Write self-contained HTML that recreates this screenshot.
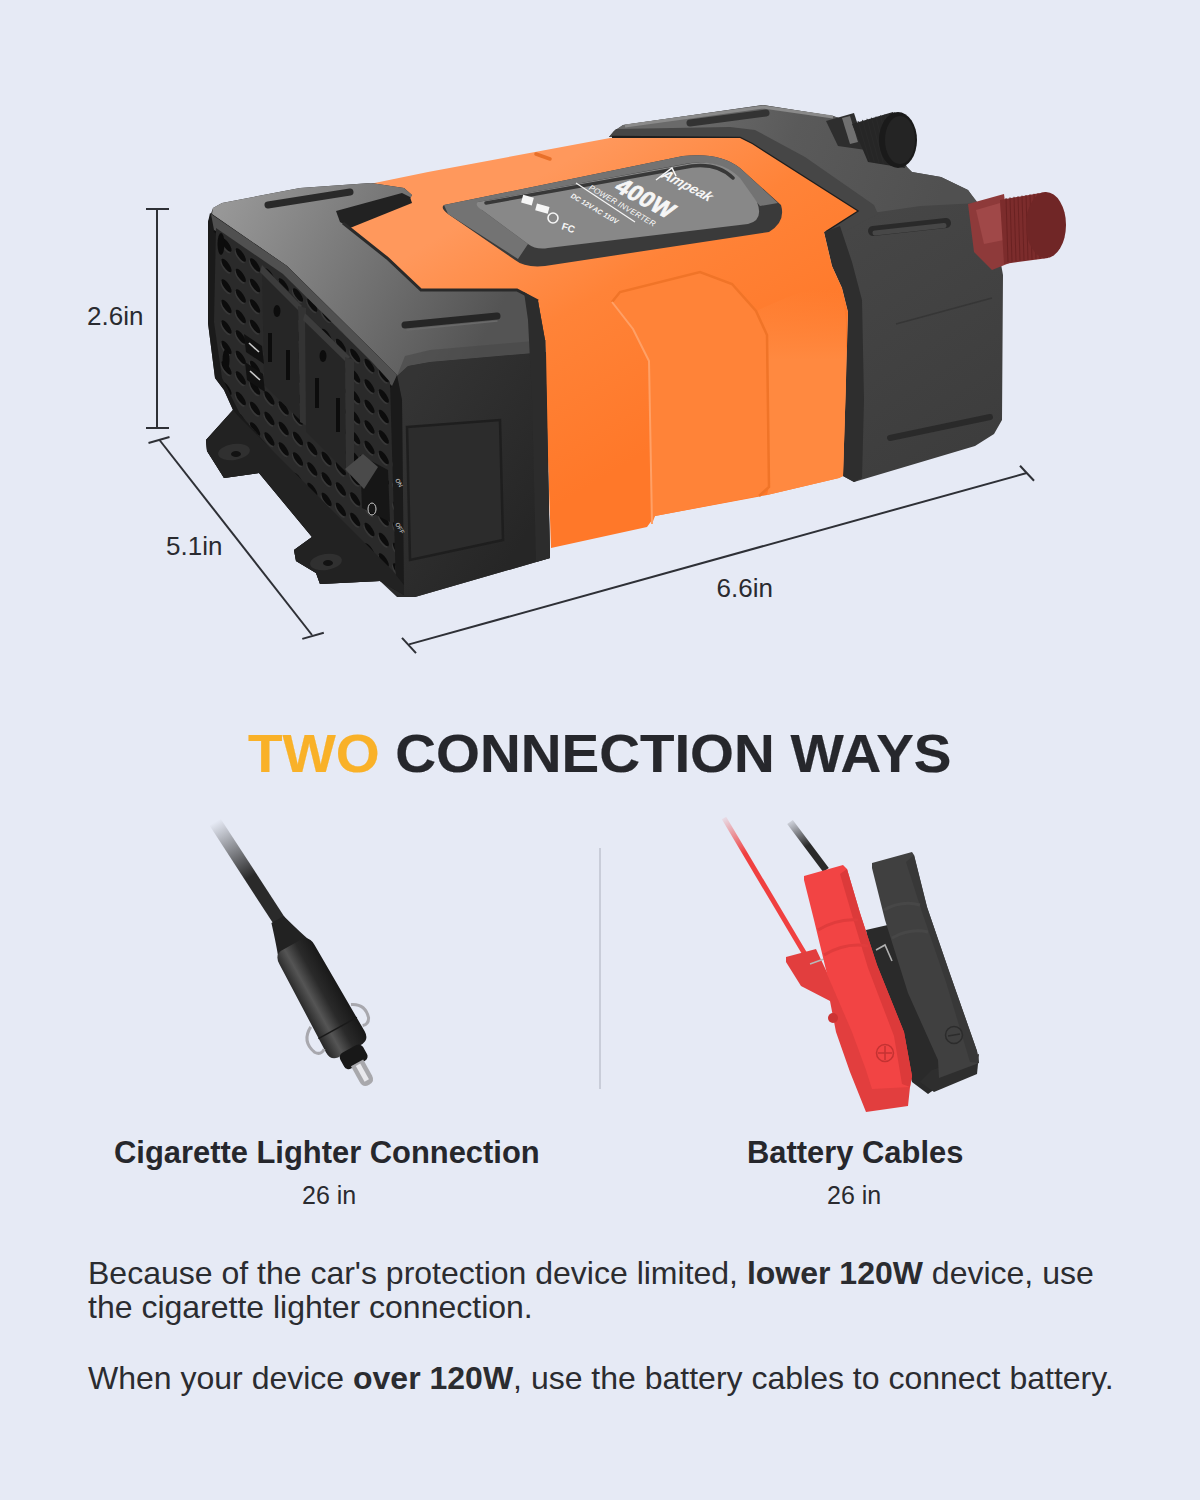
<!DOCTYPE html>
<html><head><meta charset="utf-8">
<style>
html,body{margin:0;padding:0;}
body{width:1200px;height:1500px;background:#E6EAF5;position:relative;overflow:hidden;font-family:"Liberation Sans",sans-serif;color:#26272C;}
.abs{position:absolute;white-space:nowrap;}
svg{position:absolute;left:0;top:0;}
.dim{font-size:26px;color:#2A2B30;line-height:1;}
.head{left:248px;top:727px;font-size:53px;font-weight:bold;line-height:1;transform-origin:0 0;transform:scaleX(1.065);-webkit-text-stroke:0.2px currentColor;}
.sub{font-size:30.9px;font-weight:bold;line-height:1;}
.len{font-size:25px;line-height:1;color:#2A2B30;}
.para{font-size:32px;line-height:34px;color:#2B2C30;}
</style></head>
<body>
<svg width="1200" height="1500" viewBox="0 0 1200 1500" id="art">
  <!-- dimension lines -->
  <g stroke="#2E3036" stroke-width="2" fill="none" stroke-linecap="butt">
    <line x1="157" y1="209" x2="157" y2="428"/>
    <line x1="146" y1="209" x2="169" y2="209"/>
    <line x1="146" y1="428" x2="169" y2="428"/>
    <line x1="159.5" y1="440" x2="312" y2="635"/>
    <line x1="148.5" y1="443" x2="169.5" y2="437"/>
    <line x1="302.3" y1="638.9" x2="323.8" y2="632.8"/>
    <line x1="409" y1="644.4" x2="1026.7" y2="473"/>
    <line x1="402" y1="637.8" x2="416" y2="653.2"/>
    <line x1="1020" y1="465.7" x2="1034" y2="480.7"/>
  </g>
  <!-- divider -->
  <rect x="599" y="848" width="2" height="241" fill="#C9CDD9"/>
  <g id="inverter">
<defs>
<linearGradient id="gLtop" x1="225" y1="205" x2="480" y2="345" gradientUnits="userSpaceOnUse"><stop offset="0" stop-color="#979797"/><stop offset="1" stop-color="#545454"/></linearGradient>
<linearGradient id="gRtop" x1="690" y1="110" x2="940" y2="200" gradientUnits="userSpaceOnUse"><stop offset="0" stop-color="#6a6a6a"/><stop offset="0.4" stop-color="#5a5a5a"/><stop offset="1" stop-color="#505050"/></linearGradient>
<linearGradient id="gOr" x1="450" y1="230" x2="600" y2="480" gradientUnits="userSpaceOnUse"><stop offset="0" stop-color="#FF985C"/><stop offset="0.45" stop-color="#FF8338"/><stop offset="1" stop-color="#FF7829"/></linearGradient>
<linearGradient id="gSide" x1="400" y1="400" x2="550" y2="500" gradientUnits="userSpaceOnUse"><stop offset="0" stop-color="#343434"/><stop offset="1" stop-color="#262626"/></linearGradient>
<linearGradient id="gRface" x1="850" y1="230" x2="1000" y2="460" gradientUnits="userSpaceOnUse"><stop offset="0" stop-color="#464646"/><stop offset="1" stop-color="#3c3c3c"/></linearGradient>
<clipPath id="ffclip"><polygon points="216,228 283,274 372,362 390,382 396,588 380,575 240,414 222,378 214,322"/></clipPath>
</defs>
<polygon points="609,137 614,131 623,125 763,105 833,116 857,124 905,165 912,172 941,177 968,190 985,215 997,242 1003,275 1002,420 994,434 975,446 854,482 843,476 846,380 848,312 842,288 832,266 824,232 857,211 752,144 740,138" fill="url(#gRface)"/>
<polygon points="609,137 614,131 623,125 763,105 833,116 857,124 905,165 912,172 941,177 968,190 978,203 920,206 872,213 840,226 824,232 857,211 752,144 740,138" fill="url(#gRtop)"/>
<polygon points="609,137 740,138 752,144 857,211 824,232 836,236 878,214 874,205 805,157 755,130 730,127 616,129" fill="#464646"/>
<path d="M612,137 L740,138 L752,144 L857,211 L826,231" stroke="#1e1e1e" stroke-width="2.5" fill="none"/>
<polygon points="824,232 840,226 852,262 862,300 864,400 862,478 854,482 843,476 846,380 848,312 842,288 832,266" fill="#2e2e2e"/>
<path d="M625,126 L763,107 L833,117" stroke="#8a8a8a" stroke-width="3" fill="none"/>
<path d="M690,123 L766,113" stroke="#333333" stroke-width="7" stroke-linecap="round"/>
<path d="M873,231 L946,223" stroke="#2a2a2a" stroke-width="10" stroke-linecap="round"/>
<path d="M875,233 L944,225.5" stroke="#474747" stroke-width="5" stroke-linecap="round"/>
<path d="M890,438 L990,417" stroke="#2a2a2a" stroke-width="6" stroke-linecap="round"/>
<path d="M896,324 L992,298" stroke="#363636" stroke-width="1.5"/>
<g id="knob">
<path d="M826,121 L854,113 L866,150 L838,146 Z" fill="#2e2e2e"/>
<path d="M842,118 L850,116 L858,142 L850,144 Z" fill="#707070"/>
<path d="M852,124 L893,112 L905,168 L868,162 Z" fill="#262626"/>
<path d="M858.0,121.0 L870.0,162.0" stroke="#2a2a2a" stroke-width="1"/>
<path d="M862.5,119.9 L874.5,162.6" stroke="#2a2a2a" stroke-width="1"/>
<path d="M867.0,118.8 L879.0,163.2" stroke="#2a2a2a" stroke-width="1"/>
<path d="M871.5,117.7 L883.5,163.8" stroke="#2a2a2a" stroke-width="1"/>
<path d="M876.0,116.6 L888.0,164.4" stroke="#2a2a2a" stroke-width="1"/>
<path d="M880.5,115.5 L892.5,165.0" stroke="#2a2a2a" stroke-width="1"/>
<path d="M885.0,114.4 L897.0,165.6" stroke="#2a2a2a" stroke-width="1"/>
<path d="M889.5,113.3 L901.5,166.2" stroke="#2a2a2a" stroke-width="1"/>
<path d="M894.0,112.2 L906.0,166.8" stroke="#2a2a2a" stroke-width="1"/>
<ellipse cx="898" cy="140" rx="19" ry="28" fill="#1a1a1a"/>
<ellipse cx="900" cy="140" rx="15" ry="24" fill="#242424"/>
</g>
<g id="red">
<path d="M968,204 L1004,194 L1012,262 L992,270 L974,252 Z" fill="#8e3a3a"/>
<path d="M976,210 L1000,203 L1004,240 L984,244 Z" fill="#a04848"/>
<path d="M1000,200 L1046,192 L1048,258 L1004,264 Z" fill="#7c2c2c"/>
<path d="M1006,198.0 L1008,262.0" stroke="#6a2222" stroke-width="1"/>
<path d="M1010,197.4 L1012,261.6" stroke="#6a2222" stroke-width="1"/>
<path d="M1014,196.8 L1016,261.2" stroke="#6a2222" stroke-width="1"/>
<path d="M1018,196.2 L1020,260.8" stroke="#6a2222" stroke-width="1"/>
<path d="M1022,195.6 L1024,260.4" stroke="#6a2222" stroke-width="1"/>
<path d="M1026,195.0 L1028,260.0" stroke="#6a2222" stroke-width="1"/>
<path d="M1030,194.4 L1032,259.6" stroke="#6a2222" stroke-width="1"/>
<path d="M1034,193.8 L1036,259.2" stroke="#6a2222" stroke-width="1"/>
<path d="M1038,193.2 L1040,258.8" stroke="#6a2222" stroke-width="1"/>
<path d="M1042,192.6 L1044,258.4" stroke="#6a2222" stroke-width="1"/>
<ellipse cx="1046" cy="225" rx="20" ry="33" fill="#702626"/>
</g>
<polygon points="360,186 428,172 535,152 610,138 740,138 752,144 857,211 824,232 832,266 842,288 848,312 846,380 843,476 839,478 767,495 757,497 655,516 647,527 551,548 546,400 532,296 421,296 343,240" fill="url(#gOr)"/>
<defs><linearGradient id="gRsec" x1="0" y1="290" x2="0" y2="360" gradientUnits="userSpaceOnUse"><stop offset="0" stop-color="#FF8940" stop-opacity="0"/><stop offset="1" stop-color="#FF8940" stop-opacity="1"/></linearGradient></defs>
<polygon points="756,311 790,296 840,280 846,320 846,380 843,476 839,478 767,495 769,487 767,335" fill="url(#gRsec)"/>
<polygon points="612,302 620,292 700,272 732,284 756,311 767,335 769,487 759,496 655,516 652,524 649,361 633,329" fill="#FF8338"/>
<path d="M612,302 L620,292 L700,272 L732,284 L756,311 L767,335 L769,487 L759,496" fill="none" stroke="#F07428" stroke-width="2.5"/>
<path d="M612,302 L633,329 L649,361 L652,524" fill="none" stroke="#FFA066" stroke-width="2"/>
<path d="M536,154 L550,159" stroke="#E8702A" stroke-width="3.5" stroke-linecap="round"/>
<path d="M444,205 L683,156 Q720,152 740,168 L781,205 Q786,222 769,232 L545,266 Q525,268 515,260 L448,214 Q440,208 444,205 Z" fill="#3a3a3a"/>
<path d="M444,205 L683,156 Q720,152 740,168 L778,203 L760,206 L735,176 Q718,160 690,163 L478,202 L482,210 L528,244 L518,259 L448,214 Z" fill="#737373"/>
<path d="M478,202 L692,163 Q722,160 740,178 L757,202 Q764,220 748,224 L548,248 Q536,250 528,244 L482,210 Q474,205 478,202 Z" fill="#888888"/>
<path d="M486,203 L692,166 Q718,163 733,178" stroke="#383838" stroke-width="3.5" fill="none" stroke-linecap="round"/>
<g fill="#f6f6f6" font-family="Liberation Sans, sans-serif">
<text transform="translate(613,190) rotate(28) skewX(-12)" font-size="23" font-weight="bold" letter-spacing="0.5" stroke="#f6f6f6" stroke-width="0.8">400W</text>
<text transform="translate(660,177) rotate(27) skewX(-14)" font-size="14" font-style="italic" font-weight="bold">Ampeak</text>
<path d="M656,180 L672,168 L676,176" stroke="#f6f6f6" stroke-width="1.5" fill="none"/>
<text transform="translate(588,189) rotate(30) skewX(-10)" font-size="8" letter-spacing="0.2">POWER INVERTER</text>
<path d="M576,183 L635,222" stroke="#f6f6f6" stroke-width="1.2"/>
<text transform="translate(570,197) rotate(30) skewX(-10)" font-size="7" font-weight="bold">DC 12V</text>
<text transform="translate(592,210) rotate(30) skewX(-10)" font-size="7" font-weight="bold">AC 110V</text>
<rect x="522" y="196" width="11" height="8" transform="rotate(15 527 200)"/>
<rect x="536" y="205" width="13" height="7" transform="rotate(15 542 208)"/>
<circle cx="553" cy="218" r="5" fill="none" stroke="#f6f6f6" stroke-width="1.6"/>
<text transform="translate(561,229) rotate(18)" font-size="10" font-weight="bold">FC</text>
</g>
<polygon points="213,208 222,203 300,188 371,183 404,188 412,195 408,202 343,223 387,258 421,290 517,290 538,301 545,340 550,558 415,597 397,597 380,581 320,584 316,573 296,561 294,550 312,537 259,473 224,478 207,451 206,440 233,410 224,390 215,378 208,323 208,222" fill="#2a2a2a"/>
<polygon points="213,208 222,203 300,188 371,183 404,188 412,195 408,202 343,223 387,258 421,290 517,290 538,301 546,352 430,362 408,366 397,376 378,356 287,266 212,214" fill="url(#gLtop)"/>
<polygon points="336,211 402,193 410,197 412,203 350,228 340,222" fill="#222"/>
<path d="M343,223 L387,258 L421,290 L517,290 L538,301" fill="none" stroke="#2a2a2a" stroke-width="3"/>
<path d="M268,205 L350,192" stroke="#2a2a2a" stroke-width="7" stroke-linecap="round"/>
<defs><linearGradient id="gSideTop" x1="0" y1="345" x2="0" y2="372" gradientUnits="userSpaceOnUse"><stop offset="0" stop-color="#555555" stop-opacity="0"/><stop offset="1" stop-color="#555555" stop-opacity="0"/></linearGradient></defs>
<polygon points="397,376 408,366 430,362 546,352 550,558 415,597 404,595 402,400" fill="url(#gSide)"/>
<polygon points="397,376 408,366 430,362 546,352 546,340 430,350 405,356" fill="#484848" opacity="0.6"/>
<polygon points="524,292 538,301 545,340 550,558 536,562 532,400 528,320" fill="#2c2c2c"/>
<path d="M405,325 L497,316" stroke="#262626" stroke-width="7" stroke-linecap="round"/>
<path d="M407,330 L497,321" stroke="#6a6a6a" stroke-width="1.5" stroke-linecap="round"/>
<polygon points="407,427 500,420 503,540 410,560" fill="#2c2c2c" stroke="#1e1e1e" stroke-width="2.5"/>
<polygon points="210,213 287,266 378,356 397,375 402,400 404,595 380,581 320,584 316,573 296,561 294,550 312,537 259,473 224,478 207,451 206,440 233,410 224,390 215,378 208,323 208,222" fill="#1a1a1a"/>
<polygon points="211,214 287,266 378,356 397,375 392,386 372,366 283,278 214,230" fill="#505050"/>
<path d="M214,231 L283,279 L372,367 L391,387" fill="none" stroke="#111" stroke-width="2"/>
<polygon points="216,228 283,274 372,362 390,382 396,588 380,575 240,414 222,378 214,322" fill="#2a2a2a"/>
<g clip-path="url(#ffclip)">
<ellipse cx="225.5" cy="185.0" rx="8" ry="2.9" transform="rotate(56 225.5 185.0)" fill="#383838"/>
<ellipse cx="226.5" cy="183.5" rx="8" ry="2.9" transform="rotate(56 226.5 183.5)" fill="#0c0c0c"/>
<ellipse cx="225.5" cy="205.5" rx="8" ry="2.9" transform="rotate(56 225.5 205.5)" fill="#383838"/>
<ellipse cx="226.5" cy="204.0" rx="8" ry="2.9" transform="rotate(56 226.5 204.0)" fill="#0c0c0c"/>
<ellipse cx="225.5" cy="226.0" rx="8" ry="2.9" transform="rotate(56 225.5 226.0)" fill="#383838"/>
<ellipse cx="226.5" cy="224.5" rx="8" ry="2.9" transform="rotate(56 226.5 224.5)" fill="#0c0c0c"/>
<ellipse cx="225.5" cy="246.5" rx="8" ry="2.9" transform="rotate(56 225.5 246.5)" fill="#383838"/>
<ellipse cx="226.5" cy="245.0" rx="8" ry="2.9" transform="rotate(56 226.5 245.0)" fill="#0c0c0c"/>
<ellipse cx="225.5" cy="267.0" rx="8" ry="2.9" transform="rotate(56 225.5 267.0)" fill="#383838"/>
<ellipse cx="226.5" cy="265.5" rx="8" ry="2.9" transform="rotate(56 226.5 265.5)" fill="#0c0c0c"/>
<ellipse cx="225.5" cy="287.5" rx="8" ry="2.9" transform="rotate(56 225.5 287.5)" fill="#383838"/>
<ellipse cx="226.5" cy="286.0" rx="8" ry="2.9" transform="rotate(56 226.5 286.0)" fill="#0c0c0c"/>
<ellipse cx="225.5" cy="308.0" rx="8" ry="2.9" transform="rotate(56 225.5 308.0)" fill="#383838"/>
<ellipse cx="226.5" cy="306.5" rx="8" ry="2.9" transform="rotate(56 226.5 306.5)" fill="#0c0c0c"/>
<ellipse cx="225.5" cy="328.5" rx="8" ry="2.9" transform="rotate(56 225.5 328.5)" fill="#383838"/>
<ellipse cx="226.5" cy="327.0" rx="8" ry="2.9" transform="rotate(56 226.5 327.0)" fill="#0c0c0c"/>
<ellipse cx="225.5" cy="349.0" rx="8" ry="2.9" transform="rotate(56 225.5 349.0)" fill="#383838"/>
<ellipse cx="226.5" cy="347.5" rx="8" ry="2.9" transform="rotate(56 226.5 347.5)" fill="#0c0c0c"/>
<ellipse cx="225.5" cy="369.5" rx="8" ry="2.9" transform="rotate(56 225.5 369.5)" fill="#383838"/>
<ellipse cx="226.5" cy="368.0" rx="8" ry="2.9" transform="rotate(56 226.5 368.0)" fill="#0c0c0c"/>
<ellipse cx="225.5" cy="390.0" rx="8" ry="2.9" transform="rotate(56 225.5 390.0)" fill="#383838"/>
<ellipse cx="226.5" cy="388.5" rx="8" ry="2.9" transform="rotate(56 226.5 388.5)" fill="#0c0c0c"/>
<ellipse cx="225.5" cy="410.5" rx="8" ry="2.9" transform="rotate(56 225.5 410.5)" fill="#383838"/>
<ellipse cx="226.5" cy="409.0" rx="8" ry="2.9" transform="rotate(56 226.5 409.0)" fill="#0c0c0c"/>
<ellipse cx="225.5" cy="431.0" rx="8" ry="2.9" transform="rotate(56 225.5 431.0)" fill="#383838"/>
<ellipse cx="226.5" cy="429.5" rx="8" ry="2.9" transform="rotate(56 226.5 429.5)" fill="#0c0c0c"/>
<ellipse cx="225.5" cy="451.5" rx="8" ry="2.9" transform="rotate(56 225.5 451.5)" fill="#383838"/>
<ellipse cx="226.5" cy="450.0" rx="8" ry="2.9" transform="rotate(56 226.5 450.0)" fill="#0c0c0c"/>
<ellipse cx="225.5" cy="472.0" rx="8" ry="2.9" transform="rotate(56 225.5 472.0)" fill="#383838"/>
<ellipse cx="226.5" cy="470.5" rx="8" ry="2.9" transform="rotate(56 226.5 470.5)" fill="#0c0c0c"/>
<ellipse cx="225.5" cy="492.5" rx="8" ry="2.9" transform="rotate(56 225.5 492.5)" fill="#383838"/>
<ellipse cx="226.5" cy="491.0" rx="8" ry="2.9" transform="rotate(56 226.5 491.0)" fill="#0c0c0c"/>
<ellipse cx="225.5" cy="513.0" rx="8" ry="2.9" transform="rotate(56 225.5 513.0)" fill="#383838"/>
<ellipse cx="226.5" cy="511.5" rx="8" ry="2.9" transform="rotate(56 226.5 511.5)" fill="#0c0c0c"/>
<ellipse cx="239.8" cy="195.0" rx="8" ry="2.9" transform="rotate(56 239.8 195.0)" fill="#383838"/>
<ellipse cx="240.8" cy="193.5" rx="8" ry="2.9" transform="rotate(56 240.8 193.5)" fill="#0c0c0c"/>
<ellipse cx="239.8" cy="215.5" rx="8" ry="2.9" transform="rotate(56 239.8 215.5)" fill="#383838"/>
<ellipse cx="240.8" cy="214.0" rx="8" ry="2.9" transform="rotate(56 240.8 214.0)" fill="#0c0c0c"/>
<ellipse cx="239.8" cy="236.0" rx="8" ry="2.9" transform="rotate(56 239.8 236.0)" fill="#383838"/>
<ellipse cx="240.8" cy="234.5" rx="8" ry="2.9" transform="rotate(56 240.8 234.5)" fill="#0c0c0c"/>
<ellipse cx="239.8" cy="256.5" rx="8" ry="2.9" transform="rotate(56 239.8 256.5)" fill="#383838"/>
<ellipse cx="240.8" cy="255.0" rx="8" ry="2.9" transform="rotate(56 240.8 255.0)" fill="#0c0c0c"/>
<ellipse cx="239.8" cy="277.0" rx="8" ry="2.9" transform="rotate(56 239.8 277.0)" fill="#383838"/>
<ellipse cx="240.8" cy="275.5" rx="8" ry="2.9" transform="rotate(56 240.8 275.5)" fill="#0c0c0c"/>
<ellipse cx="239.8" cy="297.5" rx="8" ry="2.9" transform="rotate(56 239.8 297.5)" fill="#383838"/>
<ellipse cx="240.8" cy="296.0" rx="8" ry="2.9" transform="rotate(56 240.8 296.0)" fill="#0c0c0c"/>
<ellipse cx="239.8" cy="318.0" rx="8" ry="2.9" transform="rotate(56 239.8 318.0)" fill="#383838"/>
<ellipse cx="240.8" cy="316.5" rx="8" ry="2.9" transform="rotate(56 240.8 316.5)" fill="#0c0c0c"/>
<ellipse cx="239.8" cy="338.5" rx="8" ry="2.9" transform="rotate(56 239.8 338.5)" fill="#383838"/>
<ellipse cx="240.8" cy="337.0" rx="8" ry="2.9" transform="rotate(56 240.8 337.0)" fill="#0c0c0c"/>
<ellipse cx="239.8" cy="359.0" rx="8" ry="2.9" transform="rotate(56 239.8 359.0)" fill="#383838"/>
<ellipse cx="240.8" cy="357.5" rx="8" ry="2.9" transform="rotate(56 240.8 357.5)" fill="#0c0c0c"/>
<ellipse cx="239.8" cy="379.5" rx="8" ry="2.9" transform="rotate(56 239.8 379.5)" fill="#383838"/>
<ellipse cx="240.8" cy="378.0" rx="8" ry="2.9" transform="rotate(56 240.8 378.0)" fill="#0c0c0c"/>
<ellipse cx="239.8" cy="400.0" rx="8" ry="2.9" transform="rotate(56 239.8 400.0)" fill="#383838"/>
<ellipse cx="240.8" cy="398.5" rx="8" ry="2.9" transform="rotate(56 240.8 398.5)" fill="#0c0c0c"/>
<ellipse cx="239.8" cy="420.5" rx="8" ry="2.9" transform="rotate(56 239.8 420.5)" fill="#383838"/>
<ellipse cx="240.8" cy="419.0" rx="8" ry="2.9" transform="rotate(56 240.8 419.0)" fill="#0c0c0c"/>
<ellipse cx="239.8" cy="441.0" rx="8" ry="2.9" transform="rotate(56 239.8 441.0)" fill="#383838"/>
<ellipse cx="240.8" cy="439.5" rx="8" ry="2.9" transform="rotate(56 240.8 439.5)" fill="#0c0c0c"/>
<ellipse cx="239.8" cy="461.5" rx="8" ry="2.9" transform="rotate(56 239.8 461.5)" fill="#383838"/>
<ellipse cx="240.8" cy="460.0" rx="8" ry="2.9" transform="rotate(56 240.8 460.0)" fill="#0c0c0c"/>
<ellipse cx="239.8" cy="482.0" rx="8" ry="2.9" transform="rotate(56 239.8 482.0)" fill="#383838"/>
<ellipse cx="240.8" cy="480.5" rx="8" ry="2.9" transform="rotate(56 240.8 480.5)" fill="#0c0c0c"/>
<ellipse cx="239.8" cy="502.5" rx="8" ry="2.9" transform="rotate(56 239.8 502.5)" fill="#383838"/>
<ellipse cx="240.8" cy="501.0" rx="8" ry="2.9" transform="rotate(56 240.8 501.0)" fill="#0c0c0c"/>
<ellipse cx="239.8" cy="523.0" rx="8" ry="2.9" transform="rotate(56 239.8 523.0)" fill="#383838"/>
<ellipse cx="240.8" cy="521.5" rx="8" ry="2.9" transform="rotate(56 240.8 521.5)" fill="#0c0c0c"/>
<ellipse cx="254.1" cy="205.0" rx="8" ry="2.9" transform="rotate(56 254.1 205.0)" fill="#383838"/>
<ellipse cx="255.1" cy="203.5" rx="8" ry="2.9" transform="rotate(56 255.1 203.5)" fill="#0c0c0c"/>
<ellipse cx="254.1" cy="225.5" rx="8" ry="2.9" transform="rotate(56 254.1 225.5)" fill="#383838"/>
<ellipse cx="255.1" cy="224.0" rx="8" ry="2.9" transform="rotate(56 255.1 224.0)" fill="#0c0c0c"/>
<ellipse cx="254.1" cy="246.0" rx="8" ry="2.9" transform="rotate(56 254.1 246.0)" fill="#383838"/>
<ellipse cx="255.1" cy="244.5" rx="8" ry="2.9" transform="rotate(56 255.1 244.5)" fill="#0c0c0c"/>
<ellipse cx="254.1" cy="266.5" rx="8" ry="2.9" transform="rotate(56 254.1 266.5)" fill="#383838"/>
<ellipse cx="255.1" cy="265.0" rx="8" ry="2.9" transform="rotate(56 255.1 265.0)" fill="#0c0c0c"/>
<ellipse cx="254.1" cy="287.0" rx="8" ry="2.9" transform="rotate(56 254.1 287.0)" fill="#383838"/>
<ellipse cx="255.1" cy="285.5" rx="8" ry="2.9" transform="rotate(56 255.1 285.5)" fill="#0c0c0c"/>
<ellipse cx="254.1" cy="307.5" rx="8" ry="2.9" transform="rotate(56 254.1 307.5)" fill="#383838"/>
<ellipse cx="255.1" cy="306.0" rx="8" ry="2.9" transform="rotate(56 255.1 306.0)" fill="#0c0c0c"/>
<ellipse cx="254.1" cy="328.0" rx="8" ry="2.9" transform="rotate(56 254.1 328.0)" fill="#383838"/>
<ellipse cx="255.1" cy="326.5" rx="8" ry="2.9" transform="rotate(56 255.1 326.5)" fill="#0c0c0c"/>
<ellipse cx="254.1" cy="348.5" rx="8" ry="2.9" transform="rotate(56 254.1 348.5)" fill="#383838"/>
<ellipse cx="255.1" cy="347.0" rx="8" ry="2.9" transform="rotate(56 255.1 347.0)" fill="#0c0c0c"/>
<ellipse cx="254.1" cy="369.0" rx="8" ry="2.9" transform="rotate(56 254.1 369.0)" fill="#383838"/>
<ellipse cx="255.1" cy="367.5" rx="8" ry="2.9" transform="rotate(56 255.1 367.5)" fill="#0c0c0c"/>
<ellipse cx="254.1" cy="389.5" rx="8" ry="2.9" transform="rotate(56 254.1 389.5)" fill="#383838"/>
<ellipse cx="255.1" cy="388.0" rx="8" ry="2.9" transform="rotate(56 255.1 388.0)" fill="#0c0c0c"/>
<ellipse cx="254.1" cy="410.0" rx="8" ry="2.9" transform="rotate(56 254.1 410.0)" fill="#383838"/>
<ellipse cx="255.1" cy="408.5" rx="8" ry="2.9" transform="rotate(56 255.1 408.5)" fill="#0c0c0c"/>
<ellipse cx="254.1" cy="430.5" rx="8" ry="2.9" transform="rotate(56 254.1 430.5)" fill="#383838"/>
<ellipse cx="255.1" cy="429.0" rx="8" ry="2.9" transform="rotate(56 255.1 429.0)" fill="#0c0c0c"/>
<ellipse cx="254.1" cy="451.0" rx="8" ry="2.9" transform="rotate(56 254.1 451.0)" fill="#383838"/>
<ellipse cx="255.1" cy="449.5" rx="8" ry="2.9" transform="rotate(56 255.1 449.5)" fill="#0c0c0c"/>
<ellipse cx="254.1" cy="471.5" rx="8" ry="2.9" transform="rotate(56 254.1 471.5)" fill="#383838"/>
<ellipse cx="255.1" cy="470.0" rx="8" ry="2.9" transform="rotate(56 255.1 470.0)" fill="#0c0c0c"/>
<ellipse cx="254.1" cy="492.0" rx="8" ry="2.9" transform="rotate(56 254.1 492.0)" fill="#383838"/>
<ellipse cx="255.1" cy="490.5" rx="8" ry="2.9" transform="rotate(56 255.1 490.5)" fill="#0c0c0c"/>
<ellipse cx="254.1" cy="512.5" rx="8" ry="2.9" transform="rotate(56 254.1 512.5)" fill="#383838"/>
<ellipse cx="255.1" cy="511.0" rx="8" ry="2.9" transform="rotate(56 255.1 511.0)" fill="#0c0c0c"/>
<ellipse cx="254.1" cy="533.0" rx="8" ry="2.9" transform="rotate(56 254.1 533.0)" fill="#383838"/>
<ellipse cx="255.1" cy="531.5" rx="8" ry="2.9" transform="rotate(56 255.1 531.5)" fill="#0c0c0c"/>
<ellipse cx="268.4" cy="215.0" rx="8" ry="2.9" transform="rotate(56 268.4 215.0)" fill="#383838"/>
<ellipse cx="269.4" cy="213.5" rx="8" ry="2.9" transform="rotate(56 269.4 213.5)" fill="#0c0c0c"/>
<ellipse cx="268.4" cy="235.5" rx="8" ry="2.9" transform="rotate(56 268.4 235.5)" fill="#383838"/>
<ellipse cx="269.4" cy="234.0" rx="8" ry="2.9" transform="rotate(56 269.4 234.0)" fill="#0c0c0c"/>
<ellipse cx="268.4" cy="256.0" rx="8" ry="2.9" transform="rotate(56 268.4 256.0)" fill="#383838"/>
<ellipse cx="269.4" cy="254.5" rx="8" ry="2.9" transform="rotate(56 269.4 254.5)" fill="#0c0c0c"/>
<ellipse cx="268.4" cy="276.5" rx="8" ry="2.9" transform="rotate(56 268.4 276.5)" fill="#383838"/>
<ellipse cx="269.4" cy="275.0" rx="8" ry="2.9" transform="rotate(56 269.4 275.0)" fill="#0c0c0c"/>
<ellipse cx="268.4" cy="297.0" rx="8" ry="2.9" transform="rotate(56 268.4 297.0)" fill="#383838"/>
<ellipse cx="269.4" cy="295.5" rx="8" ry="2.9" transform="rotate(56 269.4 295.5)" fill="#0c0c0c"/>
<ellipse cx="268.4" cy="317.5" rx="8" ry="2.9" transform="rotate(56 268.4 317.5)" fill="#383838"/>
<ellipse cx="269.4" cy="316.0" rx="8" ry="2.9" transform="rotate(56 269.4 316.0)" fill="#0c0c0c"/>
<ellipse cx="268.4" cy="338.0" rx="8" ry="2.9" transform="rotate(56 268.4 338.0)" fill="#383838"/>
<ellipse cx="269.4" cy="336.5" rx="8" ry="2.9" transform="rotate(56 269.4 336.5)" fill="#0c0c0c"/>
<ellipse cx="268.4" cy="358.5" rx="8" ry="2.9" transform="rotate(56 268.4 358.5)" fill="#383838"/>
<ellipse cx="269.4" cy="357.0" rx="8" ry="2.9" transform="rotate(56 269.4 357.0)" fill="#0c0c0c"/>
<ellipse cx="268.4" cy="379.0" rx="8" ry="2.9" transform="rotate(56 268.4 379.0)" fill="#383838"/>
<ellipse cx="269.4" cy="377.5" rx="8" ry="2.9" transform="rotate(56 269.4 377.5)" fill="#0c0c0c"/>
<ellipse cx="268.4" cy="399.5" rx="8" ry="2.9" transform="rotate(56 268.4 399.5)" fill="#383838"/>
<ellipse cx="269.4" cy="398.0" rx="8" ry="2.9" transform="rotate(56 269.4 398.0)" fill="#0c0c0c"/>
<ellipse cx="268.4" cy="420.0" rx="8" ry="2.9" transform="rotate(56 268.4 420.0)" fill="#383838"/>
<ellipse cx="269.4" cy="418.5" rx="8" ry="2.9" transform="rotate(56 269.4 418.5)" fill="#0c0c0c"/>
<ellipse cx="268.4" cy="440.5" rx="8" ry="2.9" transform="rotate(56 268.4 440.5)" fill="#383838"/>
<ellipse cx="269.4" cy="439.0" rx="8" ry="2.9" transform="rotate(56 269.4 439.0)" fill="#0c0c0c"/>
<ellipse cx="268.4" cy="461.0" rx="8" ry="2.9" transform="rotate(56 268.4 461.0)" fill="#383838"/>
<ellipse cx="269.4" cy="459.5" rx="8" ry="2.9" transform="rotate(56 269.4 459.5)" fill="#0c0c0c"/>
<ellipse cx="268.4" cy="481.5" rx="8" ry="2.9" transform="rotate(56 268.4 481.5)" fill="#383838"/>
<ellipse cx="269.4" cy="480.0" rx="8" ry="2.9" transform="rotate(56 269.4 480.0)" fill="#0c0c0c"/>
<ellipse cx="268.4" cy="502.0" rx="8" ry="2.9" transform="rotate(56 268.4 502.0)" fill="#383838"/>
<ellipse cx="269.4" cy="500.5" rx="8" ry="2.9" transform="rotate(56 269.4 500.5)" fill="#0c0c0c"/>
<ellipse cx="268.4" cy="522.5" rx="8" ry="2.9" transform="rotate(56 268.4 522.5)" fill="#383838"/>
<ellipse cx="269.4" cy="521.0" rx="8" ry="2.9" transform="rotate(56 269.4 521.0)" fill="#0c0c0c"/>
<ellipse cx="268.4" cy="543.0" rx="8" ry="2.9" transform="rotate(56 268.4 543.0)" fill="#383838"/>
<ellipse cx="269.4" cy="541.5" rx="8" ry="2.9" transform="rotate(56 269.4 541.5)" fill="#0c0c0c"/>
<ellipse cx="282.7" cy="225.0" rx="8" ry="2.9" transform="rotate(56 282.7 225.0)" fill="#383838"/>
<ellipse cx="283.7" cy="223.5" rx="8" ry="2.9" transform="rotate(56 283.7 223.5)" fill="#0c0c0c"/>
<ellipse cx="282.7" cy="245.5" rx="8" ry="2.9" transform="rotate(56 282.7 245.5)" fill="#383838"/>
<ellipse cx="283.7" cy="244.0" rx="8" ry="2.9" transform="rotate(56 283.7 244.0)" fill="#0c0c0c"/>
<ellipse cx="282.7" cy="266.0" rx="8" ry="2.9" transform="rotate(56 282.7 266.0)" fill="#383838"/>
<ellipse cx="283.7" cy="264.5" rx="8" ry="2.9" transform="rotate(56 283.7 264.5)" fill="#0c0c0c"/>
<ellipse cx="282.7" cy="286.5" rx="8" ry="2.9" transform="rotate(56 282.7 286.5)" fill="#383838"/>
<ellipse cx="283.7" cy="285.0" rx="8" ry="2.9" transform="rotate(56 283.7 285.0)" fill="#0c0c0c"/>
<ellipse cx="282.7" cy="307.0" rx="8" ry="2.9" transform="rotate(56 282.7 307.0)" fill="#383838"/>
<ellipse cx="283.7" cy="305.5" rx="8" ry="2.9" transform="rotate(56 283.7 305.5)" fill="#0c0c0c"/>
<ellipse cx="282.7" cy="327.5" rx="8" ry="2.9" transform="rotate(56 282.7 327.5)" fill="#383838"/>
<ellipse cx="283.7" cy="326.0" rx="8" ry="2.9" transform="rotate(56 283.7 326.0)" fill="#0c0c0c"/>
<ellipse cx="282.7" cy="348.0" rx="8" ry="2.9" transform="rotate(56 282.7 348.0)" fill="#383838"/>
<ellipse cx="283.7" cy="346.5" rx="8" ry="2.9" transform="rotate(56 283.7 346.5)" fill="#0c0c0c"/>
<ellipse cx="282.7" cy="368.5" rx="8" ry="2.9" transform="rotate(56 282.7 368.5)" fill="#383838"/>
<ellipse cx="283.7" cy="367.0" rx="8" ry="2.9" transform="rotate(56 283.7 367.0)" fill="#0c0c0c"/>
<ellipse cx="282.7" cy="389.0" rx="8" ry="2.9" transform="rotate(56 282.7 389.0)" fill="#383838"/>
<ellipse cx="283.7" cy="387.5" rx="8" ry="2.9" transform="rotate(56 283.7 387.5)" fill="#0c0c0c"/>
<ellipse cx="282.7" cy="409.5" rx="8" ry="2.9" transform="rotate(56 282.7 409.5)" fill="#383838"/>
<ellipse cx="283.7" cy="408.0" rx="8" ry="2.9" transform="rotate(56 283.7 408.0)" fill="#0c0c0c"/>
<ellipse cx="282.7" cy="430.0" rx="8" ry="2.9" transform="rotate(56 282.7 430.0)" fill="#383838"/>
<ellipse cx="283.7" cy="428.5" rx="8" ry="2.9" transform="rotate(56 283.7 428.5)" fill="#0c0c0c"/>
<ellipse cx="282.7" cy="450.5" rx="8" ry="2.9" transform="rotate(56 282.7 450.5)" fill="#383838"/>
<ellipse cx="283.7" cy="449.0" rx="8" ry="2.9" transform="rotate(56 283.7 449.0)" fill="#0c0c0c"/>
<ellipse cx="282.7" cy="471.0" rx="8" ry="2.9" transform="rotate(56 282.7 471.0)" fill="#383838"/>
<ellipse cx="283.7" cy="469.5" rx="8" ry="2.9" transform="rotate(56 283.7 469.5)" fill="#0c0c0c"/>
<ellipse cx="282.7" cy="491.5" rx="8" ry="2.9" transform="rotate(56 282.7 491.5)" fill="#383838"/>
<ellipse cx="283.7" cy="490.0" rx="8" ry="2.9" transform="rotate(56 283.7 490.0)" fill="#0c0c0c"/>
<ellipse cx="282.7" cy="512.0" rx="8" ry="2.9" transform="rotate(56 282.7 512.0)" fill="#383838"/>
<ellipse cx="283.7" cy="510.5" rx="8" ry="2.9" transform="rotate(56 283.7 510.5)" fill="#0c0c0c"/>
<ellipse cx="282.7" cy="532.5" rx="8" ry="2.9" transform="rotate(56 282.7 532.5)" fill="#383838"/>
<ellipse cx="283.7" cy="531.0" rx="8" ry="2.9" transform="rotate(56 283.7 531.0)" fill="#0c0c0c"/>
<ellipse cx="282.7" cy="553.0" rx="8" ry="2.9" transform="rotate(56 282.7 553.0)" fill="#383838"/>
<ellipse cx="283.7" cy="551.5" rx="8" ry="2.9" transform="rotate(56 283.7 551.5)" fill="#0c0c0c"/>
<ellipse cx="297.0" cy="235.0" rx="8" ry="2.9" transform="rotate(56 297.0 235.0)" fill="#383838"/>
<ellipse cx="298.0" cy="233.5" rx="8" ry="2.9" transform="rotate(56 298.0 233.5)" fill="#0c0c0c"/>
<ellipse cx="297.0" cy="255.5" rx="8" ry="2.9" transform="rotate(56 297.0 255.5)" fill="#383838"/>
<ellipse cx="298.0" cy="254.0" rx="8" ry="2.9" transform="rotate(56 298.0 254.0)" fill="#0c0c0c"/>
<ellipse cx="297.0" cy="276.0" rx="8" ry="2.9" transform="rotate(56 297.0 276.0)" fill="#383838"/>
<ellipse cx="298.0" cy="274.5" rx="8" ry="2.9" transform="rotate(56 298.0 274.5)" fill="#0c0c0c"/>
<ellipse cx="297.0" cy="296.5" rx="8" ry="2.9" transform="rotate(56 297.0 296.5)" fill="#383838"/>
<ellipse cx="298.0" cy="295.0" rx="8" ry="2.9" transform="rotate(56 298.0 295.0)" fill="#0c0c0c"/>
<ellipse cx="297.0" cy="317.0" rx="8" ry="2.9" transform="rotate(56 297.0 317.0)" fill="#383838"/>
<ellipse cx="298.0" cy="315.5" rx="8" ry="2.9" transform="rotate(56 298.0 315.5)" fill="#0c0c0c"/>
<ellipse cx="297.0" cy="337.5" rx="8" ry="2.9" transform="rotate(56 297.0 337.5)" fill="#383838"/>
<ellipse cx="298.0" cy="336.0" rx="8" ry="2.9" transform="rotate(56 298.0 336.0)" fill="#0c0c0c"/>
<ellipse cx="297.0" cy="358.0" rx="8" ry="2.9" transform="rotate(56 297.0 358.0)" fill="#383838"/>
<ellipse cx="298.0" cy="356.5" rx="8" ry="2.9" transform="rotate(56 298.0 356.5)" fill="#0c0c0c"/>
<ellipse cx="297.0" cy="378.5" rx="8" ry="2.9" transform="rotate(56 297.0 378.5)" fill="#383838"/>
<ellipse cx="298.0" cy="377.0" rx="8" ry="2.9" transform="rotate(56 298.0 377.0)" fill="#0c0c0c"/>
<ellipse cx="297.0" cy="399.0" rx="8" ry="2.9" transform="rotate(56 297.0 399.0)" fill="#383838"/>
<ellipse cx="298.0" cy="397.5" rx="8" ry="2.9" transform="rotate(56 298.0 397.5)" fill="#0c0c0c"/>
<ellipse cx="297.0" cy="419.5" rx="8" ry="2.9" transform="rotate(56 297.0 419.5)" fill="#383838"/>
<ellipse cx="298.0" cy="418.0" rx="8" ry="2.9" transform="rotate(56 298.0 418.0)" fill="#0c0c0c"/>
<ellipse cx="297.0" cy="440.0" rx="8" ry="2.9" transform="rotate(56 297.0 440.0)" fill="#383838"/>
<ellipse cx="298.0" cy="438.5" rx="8" ry="2.9" transform="rotate(56 298.0 438.5)" fill="#0c0c0c"/>
<ellipse cx="297.0" cy="460.5" rx="8" ry="2.9" transform="rotate(56 297.0 460.5)" fill="#383838"/>
<ellipse cx="298.0" cy="459.0" rx="8" ry="2.9" transform="rotate(56 298.0 459.0)" fill="#0c0c0c"/>
<ellipse cx="297.0" cy="481.0" rx="8" ry="2.9" transform="rotate(56 297.0 481.0)" fill="#383838"/>
<ellipse cx="298.0" cy="479.5" rx="8" ry="2.9" transform="rotate(56 298.0 479.5)" fill="#0c0c0c"/>
<ellipse cx="297.0" cy="501.5" rx="8" ry="2.9" transform="rotate(56 297.0 501.5)" fill="#383838"/>
<ellipse cx="298.0" cy="500.0" rx="8" ry="2.9" transform="rotate(56 298.0 500.0)" fill="#0c0c0c"/>
<ellipse cx="297.0" cy="522.0" rx="8" ry="2.9" transform="rotate(56 297.0 522.0)" fill="#383838"/>
<ellipse cx="298.0" cy="520.5" rx="8" ry="2.9" transform="rotate(56 298.0 520.5)" fill="#0c0c0c"/>
<ellipse cx="297.0" cy="542.5" rx="8" ry="2.9" transform="rotate(56 297.0 542.5)" fill="#383838"/>
<ellipse cx="298.0" cy="541.0" rx="8" ry="2.9" transform="rotate(56 298.0 541.0)" fill="#0c0c0c"/>
<ellipse cx="297.0" cy="563.0" rx="8" ry="2.9" transform="rotate(56 297.0 563.0)" fill="#383838"/>
<ellipse cx="298.0" cy="561.5" rx="8" ry="2.9" transform="rotate(56 298.0 561.5)" fill="#0c0c0c"/>
<ellipse cx="311.3" cy="245.0" rx="8" ry="2.9" transform="rotate(56 311.3 245.0)" fill="#383838"/>
<ellipse cx="312.3" cy="243.5" rx="8" ry="2.9" transform="rotate(56 312.3 243.5)" fill="#0c0c0c"/>
<ellipse cx="311.3" cy="265.5" rx="8" ry="2.9" transform="rotate(56 311.3 265.5)" fill="#383838"/>
<ellipse cx="312.3" cy="264.0" rx="8" ry="2.9" transform="rotate(56 312.3 264.0)" fill="#0c0c0c"/>
<ellipse cx="311.3" cy="286.0" rx="8" ry="2.9" transform="rotate(56 311.3 286.0)" fill="#383838"/>
<ellipse cx="312.3" cy="284.5" rx="8" ry="2.9" transform="rotate(56 312.3 284.5)" fill="#0c0c0c"/>
<ellipse cx="311.3" cy="306.5" rx="8" ry="2.9" transform="rotate(56 311.3 306.5)" fill="#383838"/>
<ellipse cx="312.3" cy="305.0" rx="8" ry="2.9" transform="rotate(56 312.3 305.0)" fill="#0c0c0c"/>
<ellipse cx="311.3" cy="327.0" rx="8" ry="2.9" transform="rotate(56 311.3 327.0)" fill="#383838"/>
<ellipse cx="312.3" cy="325.5" rx="8" ry="2.9" transform="rotate(56 312.3 325.5)" fill="#0c0c0c"/>
<ellipse cx="311.3" cy="347.5" rx="8" ry="2.9" transform="rotate(56 311.3 347.5)" fill="#383838"/>
<ellipse cx="312.3" cy="346.0" rx="8" ry="2.9" transform="rotate(56 312.3 346.0)" fill="#0c0c0c"/>
<ellipse cx="311.3" cy="368.0" rx="8" ry="2.9" transform="rotate(56 311.3 368.0)" fill="#383838"/>
<ellipse cx="312.3" cy="366.5" rx="8" ry="2.9" transform="rotate(56 312.3 366.5)" fill="#0c0c0c"/>
<ellipse cx="311.3" cy="388.5" rx="8" ry="2.9" transform="rotate(56 311.3 388.5)" fill="#383838"/>
<ellipse cx="312.3" cy="387.0" rx="8" ry="2.9" transform="rotate(56 312.3 387.0)" fill="#0c0c0c"/>
<ellipse cx="311.3" cy="409.0" rx="8" ry="2.9" transform="rotate(56 311.3 409.0)" fill="#383838"/>
<ellipse cx="312.3" cy="407.5" rx="8" ry="2.9" transform="rotate(56 312.3 407.5)" fill="#0c0c0c"/>
<ellipse cx="311.3" cy="429.5" rx="8" ry="2.9" transform="rotate(56 311.3 429.5)" fill="#383838"/>
<ellipse cx="312.3" cy="428.0" rx="8" ry="2.9" transform="rotate(56 312.3 428.0)" fill="#0c0c0c"/>
<ellipse cx="311.3" cy="450.0" rx="8" ry="2.9" transform="rotate(56 311.3 450.0)" fill="#383838"/>
<ellipse cx="312.3" cy="448.5" rx="8" ry="2.9" transform="rotate(56 312.3 448.5)" fill="#0c0c0c"/>
<ellipse cx="311.3" cy="470.5" rx="8" ry="2.9" transform="rotate(56 311.3 470.5)" fill="#383838"/>
<ellipse cx="312.3" cy="469.0" rx="8" ry="2.9" transform="rotate(56 312.3 469.0)" fill="#0c0c0c"/>
<ellipse cx="311.3" cy="491.0" rx="8" ry="2.9" transform="rotate(56 311.3 491.0)" fill="#383838"/>
<ellipse cx="312.3" cy="489.5" rx="8" ry="2.9" transform="rotate(56 312.3 489.5)" fill="#0c0c0c"/>
<ellipse cx="311.3" cy="511.5" rx="8" ry="2.9" transform="rotate(56 311.3 511.5)" fill="#383838"/>
<ellipse cx="312.3" cy="510.0" rx="8" ry="2.9" transform="rotate(56 312.3 510.0)" fill="#0c0c0c"/>
<ellipse cx="311.3" cy="532.0" rx="8" ry="2.9" transform="rotate(56 311.3 532.0)" fill="#383838"/>
<ellipse cx="312.3" cy="530.5" rx="8" ry="2.9" transform="rotate(56 312.3 530.5)" fill="#0c0c0c"/>
<ellipse cx="311.3" cy="552.5" rx="8" ry="2.9" transform="rotate(56 311.3 552.5)" fill="#383838"/>
<ellipse cx="312.3" cy="551.0" rx="8" ry="2.9" transform="rotate(56 312.3 551.0)" fill="#0c0c0c"/>
<ellipse cx="311.3" cy="573.0" rx="8" ry="2.9" transform="rotate(56 311.3 573.0)" fill="#383838"/>
<ellipse cx="312.3" cy="571.5" rx="8" ry="2.9" transform="rotate(56 312.3 571.5)" fill="#0c0c0c"/>
<ellipse cx="325.6" cy="255.0" rx="8" ry="2.9" transform="rotate(56 325.6 255.0)" fill="#383838"/>
<ellipse cx="326.6" cy="253.5" rx="8" ry="2.9" transform="rotate(56 326.6 253.5)" fill="#0c0c0c"/>
<ellipse cx="325.6" cy="275.5" rx="8" ry="2.9" transform="rotate(56 325.6 275.5)" fill="#383838"/>
<ellipse cx="326.6" cy="274.0" rx="8" ry="2.9" transform="rotate(56 326.6 274.0)" fill="#0c0c0c"/>
<ellipse cx="325.6" cy="296.0" rx="8" ry="2.9" transform="rotate(56 325.6 296.0)" fill="#383838"/>
<ellipse cx="326.6" cy="294.5" rx="8" ry="2.9" transform="rotate(56 326.6 294.5)" fill="#0c0c0c"/>
<ellipse cx="325.6" cy="316.5" rx="8" ry="2.9" transform="rotate(56 325.6 316.5)" fill="#383838"/>
<ellipse cx="326.6" cy="315.0" rx="8" ry="2.9" transform="rotate(56 326.6 315.0)" fill="#0c0c0c"/>
<ellipse cx="325.6" cy="337.0" rx="8" ry="2.9" transform="rotate(56 325.6 337.0)" fill="#383838"/>
<ellipse cx="326.6" cy="335.5" rx="8" ry="2.9" transform="rotate(56 326.6 335.5)" fill="#0c0c0c"/>
<ellipse cx="325.6" cy="357.5" rx="8" ry="2.9" transform="rotate(56 325.6 357.5)" fill="#383838"/>
<ellipse cx="326.6" cy="356.0" rx="8" ry="2.9" transform="rotate(56 326.6 356.0)" fill="#0c0c0c"/>
<ellipse cx="325.6" cy="378.0" rx="8" ry="2.9" transform="rotate(56 325.6 378.0)" fill="#383838"/>
<ellipse cx="326.6" cy="376.5" rx="8" ry="2.9" transform="rotate(56 326.6 376.5)" fill="#0c0c0c"/>
<ellipse cx="325.6" cy="398.5" rx="8" ry="2.9" transform="rotate(56 325.6 398.5)" fill="#383838"/>
<ellipse cx="326.6" cy="397.0" rx="8" ry="2.9" transform="rotate(56 326.6 397.0)" fill="#0c0c0c"/>
<ellipse cx="325.6" cy="419.0" rx="8" ry="2.9" transform="rotate(56 325.6 419.0)" fill="#383838"/>
<ellipse cx="326.6" cy="417.5" rx="8" ry="2.9" transform="rotate(56 326.6 417.5)" fill="#0c0c0c"/>
<ellipse cx="325.6" cy="439.5" rx="8" ry="2.9" transform="rotate(56 325.6 439.5)" fill="#383838"/>
<ellipse cx="326.6" cy="438.0" rx="8" ry="2.9" transform="rotate(56 326.6 438.0)" fill="#0c0c0c"/>
<ellipse cx="325.6" cy="460.0" rx="8" ry="2.9" transform="rotate(56 325.6 460.0)" fill="#383838"/>
<ellipse cx="326.6" cy="458.5" rx="8" ry="2.9" transform="rotate(56 326.6 458.5)" fill="#0c0c0c"/>
<ellipse cx="325.6" cy="480.5" rx="8" ry="2.9" transform="rotate(56 325.6 480.5)" fill="#383838"/>
<ellipse cx="326.6" cy="479.0" rx="8" ry="2.9" transform="rotate(56 326.6 479.0)" fill="#0c0c0c"/>
<ellipse cx="325.6" cy="501.0" rx="8" ry="2.9" transform="rotate(56 325.6 501.0)" fill="#383838"/>
<ellipse cx="326.6" cy="499.5" rx="8" ry="2.9" transform="rotate(56 326.6 499.5)" fill="#0c0c0c"/>
<ellipse cx="325.6" cy="521.5" rx="8" ry="2.9" transform="rotate(56 325.6 521.5)" fill="#383838"/>
<ellipse cx="326.6" cy="520.0" rx="8" ry="2.9" transform="rotate(56 326.6 520.0)" fill="#0c0c0c"/>
<ellipse cx="325.6" cy="542.0" rx="8" ry="2.9" transform="rotate(56 325.6 542.0)" fill="#383838"/>
<ellipse cx="326.6" cy="540.5" rx="8" ry="2.9" transform="rotate(56 326.6 540.5)" fill="#0c0c0c"/>
<ellipse cx="325.6" cy="562.5" rx="8" ry="2.9" transform="rotate(56 325.6 562.5)" fill="#383838"/>
<ellipse cx="326.6" cy="561.0" rx="8" ry="2.9" transform="rotate(56 326.6 561.0)" fill="#0c0c0c"/>
<ellipse cx="325.6" cy="583.0" rx="8" ry="2.9" transform="rotate(56 325.6 583.0)" fill="#383838"/>
<ellipse cx="326.6" cy="581.5" rx="8" ry="2.9" transform="rotate(56 326.6 581.5)" fill="#0c0c0c"/>
<ellipse cx="339.9" cy="265.0" rx="8" ry="2.9" transform="rotate(56 339.9 265.0)" fill="#383838"/>
<ellipse cx="340.9" cy="263.5" rx="8" ry="2.9" transform="rotate(56 340.9 263.5)" fill="#0c0c0c"/>
<ellipse cx="339.9" cy="285.5" rx="8" ry="2.9" transform="rotate(56 339.9 285.5)" fill="#383838"/>
<ellipse cx="340.9" cy="284.0" rx="8" ry="2.9" transform="rotate(56 340.9 284.0)" fill="#0c0c0c"/>
<ellipse cx="339.9" cy="306.0" rx="8" ry="2.9" transform="rotate(56 339.9 306.0)" fill="#383838"/>
<ellipse cx="340.9" cy="304.5" rx="8" ry="2.9" transform="rotate(56 340.9 304.5)" fill="#0c0c0c"/>
<ellipse cx="339.9" cy="326.5" rx="8" ry="2.9" transform="rotate(56 339.9 326.5)" fill="#383838"/>
<ellipse cx="340.9" cy="325.0" rx="8" ry="2.9" transform="rotate(56 340.9 325.0)" fill="#0c0c0c"/>
<ellipse cx="339.9" cy="347.0" rx="8" ry="2.9" transform="rotate(56 339.9 347.0)" fill="#383838"/>
<ellipse cx="340.9" cy="345.5" rx="8" ry="2.9" transform="rotate(56 340.9 345.5)" fill="#0c0c0c"/>
<ellipse cx="339.9" cy="367.5" rx="8" ry="2.9" transform="rotate(56 339.9 367.5)" fill="#383838"/>
<ellipse cx="340.9" cy="366.0" rx="8" ry="2.9" transform="rotate(56 340.9 366.0)" fill="#0c0c0c"/>
<ellipse cx="339.9" cy="388.0" rx="8" ry="2.9" transform="rotate(56 339.9 388.0)" fill="#383838"/>
<ellipse cx="340.9" cy="386.5" rx="8" ry="2.9" transform="rotate(56 340.9 386.5)" fill="#0c0c0c"/>
<ellipse cx="339.9" cy="408.5" rx="8" ry="2.9" transform="rotate(56 339.9 408.5)" fill="#383838"/>
<ellipse cx="340.9" cy="407.0" rx="8" ry="2.9" transform="rotate(56 340.9 407.0)" fill="#0c0c0c"/>
<ellipse cx="339.9" cy="429.0" rx="8" ry="2.9" transform="rotate(56 339.9 429.0)" fill="#383838"/>
<ellipse cx="340.9" cy="427.5" rx="8" ry="2.9" transform="rotate(56 340.9 427.5)" fill="#0c0c0c"/>
<ellipse cx="339.9" cy="449.5" rx="8" ry="2.9" transform="rotate(56 339.9 449.5)" fill="#383838"/>
<ellipse cx="340.9" cy="448.0" rx="8" ry="2.9" transform="rotate(56 340.9 448.0)" fill="#0c0c0c"/>
<ellipse cx="339.9" cy="470.0" rx="8" ry="2.9" transform="rotate(56 339.9 470.0)" fill="#383838"/>
<ellipse cx="340.9" cy="468.5" rx="8" ry="2.9" transform="rotate(56 340.9 468.5)" fill="#0c0c0c"/>
<ellipse cx="339.9" cy="490.5" rx="8" ry="2.9" transform="rotate(56 339.9 490.5)" fill="#383838"/>
<ellipse cx="340.9" cy="489.0" rx="8" ry="2.9" transform="rotate(56 340.9 489.0)" fill="#0c0c0c"/>
<ellipse cx="339.9" cy="511.0" rx="8" ry="2.9" transform="rotate(56 339.9 511.0)" fill="#383838"/>
<ellipse cx="340.9" cy="509.5" rx="8" ry="2.9" transform="rotate(56 340.9 509.5)" fill="#0c0c0c"/>
<ellipse cx="339.9" cy="531.5" rx="8" ry="2.9" transform="rotate(56 339.9 531.5)" fill="#383838"/>
<ellipse cx="340.9" cy="530.0" rx="8" ry="2.9" transform="rotate(56 340.9 530.0)" fill="#0c0c0c"/>
<ellipse cx="339.9" cy="552.0" rx="8" ry="2.9" transform="rotate(56 339.9 552.0)" fill="#383838"/>
<ellipse cx="340.9" cy="550.5" rx="8" ry="2.9" transform="rotate(56 340.9 550.5)" fill="#0c0c0c"/>
<ellipse cx="339.9" cy="572.5" rx="8" ry="2.9" transform="rotate(56 339.9 572.5)" fill="#383838"/>
<ellipse cx="340.9" cy="571.0" rx="8" ry="2.9" transform="rotate(56 340.9 571.0)" fill="#0c0c0c"/>
<ellipse cx="339.9" cy="593.0" rx="8" ry="2.9" transform="rotate(56 339.9 593.0)" fill="#383838"/>
<ellipse cx="340.9" cy="591.5" rx="8" ry="2.9" transform="rotate(56 340.9 591.5)" fill="#0c0c0c"/>
<ellipse cx="354.2" cy="275.0" rx="8" ry="2.9" transform="rotate(56 354.2 275.0)" fill="#383838"/>
<ellipse cx="355.2" cy="273.5" rx="8" ry="2.9" transform="rotate(56 355.2 273.5)" fill="#0c0c0c"/>
<ellipse cx="354.2" cy="295.5" rx="8" ry="2.9" transform="rotate(56 354.2 295.5)" fill="#383838"/>
<ellipse cx="355.2" cy="294.0" rx="8" ry="2.9" transform="rotate(56 355.2 294.0)" fill="#0c0c0c"/>
<ellipse cx="354.2" cy="316.0" rx="8" ry="2.9" transform="rotate(56 354.2 316.0)" fill="#383838"/>
<ellipse cx="355.2" cy="314.5" rx="8" ry="2.9" transform="rotate(56 355.2 314.5)" fill="#0c0c0c"/>
<ellipse cx="354.2" cy="336.5" rx="8" ry="2.9" transform="rotate(56 354.2 336.5)" fill="#383838"/>
<ellipse cx="355.2" cy="335.0" rx="8" ry="2.9" transform="rotate(56 355.2 335.0)" fill="#0c0c0c"/>
<ellipse cx="354.2" cy="357.0" rx="8" ry="2.9" transform="rotate(56 354.2 357.0)" fill="#383838"/>
<ellipse cx="355.2" cy="355.5" rx="8" ry="2.9" transform="rotate(56 355.2 355.5)" fill="#0c0c0c"/>
<ellipse cx="354.2" cy="377.5" rx="8" ry="2.9" transform="rotate(56 354.2 377.5)" fill="#383838"/>
<ellipse cx="355.2" cy="376.0" rx="8" ry="2.9" transform="rotate(56 355.2 376.0)" fill="#0c0c0c"/>
<ellipse cx="354.2" cy="398.0" rx="8" ry="2.9" transform="rotate(56 354.2 398.0)" fill="#383838"/>
<ellipse cx="355.2" cy="396.5" rx="8" ry="2.9" transform="rotate(56 355.2 396.5)" fill="#0c0c0c"/>
<ellipse cx="354.2" cy="418.5" rx="8" ry="2.9" transform="rotate(56 354.2 418.5)" fill="#383838"/>
<ellipse cx="355.2" cy="417.0" rx="8" ry="2.9" transform="rotate(56 355.2 417.0)" fill="#0c0c0c"/>
<ellipse cx="354.2" cy="439.0" rx="8" ry="2.9" transform="rotate(56 354.2 439.0)" fill="#383838"/>
<ellipse cx="355.2" cy="437.5" rx="8" ry="2.9" transform="rotate(56 355.2 437.5)" fill="#0c0c0c"/>
<ellipse cx="354.2" cy="459.5" rx="8" ry="2.9" transform="rotate(56 354.2 459.5)" fill="#383838"/>
<ellipse cx="355.2" cy="458.0" rx="8" ry="2.9" transform="rotate(56 355.2 458.0)" fill="#0c0c0c"/>
<ellipse cx="354.2" cy="480.0" rx="8" ry="2.9" transform="rotate(56 354.2 480.0)" fill="#383838"/>
<ellipse cx="355.2" cy="478.5" rx="8" ry="2.9" transform="rotate(56 355.2 478.5)" fill="#0c0c0c"/>
<ellipse cx="354.2" cy="500.5" rx="8" ry="2.9" transform="rotate(56 354.2 500.5)" fill="#383838"/>
<ellipse cx="355.2" cy="499.0" rx="8" ry="2.9" transform="rotate(56 355.2 499.0)" fill="#0c0c0c"/>
<ellipse cx="354.2" cy="521.0" rx="8" ry="2.9" transform="rotate(56 354.2 521.0)" fill="#383838"/>
<ellipse cx="355.2" cy="519.5" rx="8" ry="2.9" transform="rotate(56 355.2 519.5)" fill="#0c0c0c"/>
<ellipse cx="354.2" cy="541.5" rx="8" ry="2.9" transform="rotate(56 354.2 541.5)" fill="#383838"/>
<ellipse cx="355.2" cy="540.0" rx="8" ry="2.9" transform="rotate(56 355.2 540.0)" fill="#0c0c0c"/>
<ellipse cx="354.2" cy="562.0" rx="8" ry="2.9" transform="rotate(56 354.2 562.0)" fill="#383838"/>
<ellipse cx="355.2" cy="560.5" rx="8" ry="2.9" transform="rotate(56 355.2 560.5)" fill="#0c0c0c"/>
<ellipse cx="354.2" cy="582.5" rx="8" ry="2.9" transform="rotate(56 354.2 582.5)" fill="#383838"/>
<ellipse cx="355.2" cy="581.0" rx="8" ry="2.9" transform="rotate(56 355.2 581.0)" fill="#0c0c0c"/>
<ellipse cx="354.2" cy="603.0" rx="8" ry="2.9" transform="rotate(56 354.2 603.0)" fill="#383838"/>
<ellipse cx="355.2" cy="601.5" rx="8" ry="2.9" transform="rotate(56 355.2 601.5)" fill="#0c0c0c"/>
<ellipse cx="368.5" cy="285.0" rx="8" ry="2.9" transform="rotate(56 368.5 285.0)" fill="#383838"/>
<ellipse cx="369.5" cy="283.5" rx="8" ry="2.9" transform="rotate(56 369.5 283.5)" fill="#0c0c0c"/>
<ellipse cx="368.5" cy="305.5" rx="8" ry="2.9" transform="rotate(56 368.5 305.5)" fill="#383838"/>
<ellipse cx="369.5" cy="304.0" rx="8" ry="2.9" transform="rotate(56 369.5 304.0)" fill="#0c0c0c"/>
<ellipse cx="368.5" cy="326.0" rx="8" ry="2.9" transform="rotate(56 368.5 326.0)" fill="#383838"/>
<ellipse cx="369.5" cy="324.5" rx="8" ry="2.9" transform="rotate(56 369.5 324.5)" fill="#0c0c0c"/>
<ellipse cx="368.5" cy="346.5" rx="8" ry="2.9" transform="rotate(56 368.5 346.5)" fill="#383838"/>
<ellipse cx="369.5" cy="345.0" rx="8" ry="2.9" transform="rotate(56 369.5 345.0)" fill="#0c0c0c"/>
<ellipse cx="368.5" cy="367.0" rx="8" ry="2.9" transform="rotate(56 368.5 367.0)" fill="#383838"/>
<ellipse cx="369.5" cy="365.5" rx="8" ry="2.9" transform="rotate(56 369.5 365.5)" fill="#0c0c0c"/>
<ellipse cx="368.5" cy="387.5" rx="8" ry="2.9" transform="rotate(56 368.5 387.5)" fill="#383838"/>
<ellipse cx="369.5" cy="386.0" rx="8" ry="2.9" transform="rotate(56 369.5 386.0)" fill="#0c0c0c"/>
<ellipse cx="368.5" cy="408.0" rx="8" ry="2.9" transform="rotate(56 368.5 408.0)" fill="#383838"/>
<ellipse cx="369.5" cy="406.5" rx="8" ry="2.9" transform="rotate(56 369.5 406.5)" fill="#0c0c0c"/>
<ellipse cx="368.5" cy="428.5" rx="8" ry="2.9" transform="rotate(56 368.5 428.5)" fill="#383838"/>
<ellipse cx="369.5" cy="427.0" rx="8" ry="2.9" transform="rotate(56 369.5 427.0)" fill="#0c0c0c"/>
<ellipse cx="368.5" cy="449.0" rx="8" ry="2.9" transform="rotate(56 368.5 449.0)" fill="#383838"/>
<ellipse cx="369.5" cy="447.5" rx="8" ry="2.9" transform="rotate(56 369.5 447.5)" fill="#0c0c0c"/>
<ellipse cx="368.5" cy="469.5" rx="8" ry="2.9" transform="rotate(56 368.5 469.5)" fill="#383838"/>
<ellipse cx="369.5" cy="468.0" rx="8" ry="2.9" transform="rotate(56 369.5 468.0)" fill="#0c0c0c"/>
<ellipse cx="368.5" cy="490.0" rx="8" ry="2.9" transform="rotate(56 368.5 490.0)" fill="#383838"/>
<ellipse cx="369.5" cy="488.5" rx="8" ry="2.9" transform="rotate(56 369.5 488.5)" fill="#0c0c0c"/>
<ellipse cx="368.5" cy="510.5" rx="8" ry="2.9" transform="rotate(56 368.5 510.5)" fill="#383838"/>
<ellipse cx="369.5" cy="509.0" rx="8" ry="2.9" transform="rotate(56 369.5 509.0)" fill="#0c0c0c"/>
<ellipse cx="368.5" cy="531.0" rx="8" ry="2.9" transform="rotate(56 368.5 531.0)" fill="#383838"/>
<ellipse cx="369.5" cy="529.5" rx="8" ry="2.9" transform="rotate(56 369.5 529.5)" fill="#0c0c0c"/>
<ellipse cx="368.5" cy="551.5" rx="8" ry="2.9" transform="rotate(56 368.5 551.5)" fill="#383838"/>
<ellipse cx="369.5" cy="550.0" rx="8" ry="2.9" transform="rotate(56 369.5 550.0)" fill="#0c0c0c"/>
<ellipse cx="368.5" cy="572.0" rx="8" ry="2.9" transform="rotate(56 368.5 572.0)" fill="#383838"/>
<ellipse cx="369.5" cy="570.5" rx="8" ry="2.9" transform="rotate(56 369.5 570.5)" fill="#0c0c0c"/>
<ellipse cx="368.5" cy="592.5" rx="8" ry="2.9" transform="rotate(56 368.5 592.5)" fill="#383838"/>
<ellipse cx="369.5" cy="591.0" rx="8" ry="2.9" transform="rotate(56 369.5 591.0)" fill="#0c0c0c"/>
<ellipse cx="368.5" cy="613.0" rx="8" ry="2.9" transform="rotate(56 368.5 613.0)" fill="#383838"/>
<ellipse cx="369.5" cy="611.5" rx="8" ry="2.9" transform="rotate(56 369.5 611.5)" fill="#0c0c0c"/>
<ellipse cx="382.8" cy="295.0" rx="8" ry="2.9" transform="rotate(56 382.8 295.0)" fill="#383838"/>
<ellipse cx="383.8" cy="293.5" rx="8" ry="2.9" transform="rotate(56 383.8 293.5)" fill="#0c0c0c"/>
<ellipse cx="382.8" cy="315.5" rx="8" ry="2.9" transform="rotate(56 382.8 315.5)" fill="#383838"/>
<ellipse cx="383.8" cy="314.0" rx="8" ry="2.9" transform="rotate(56 383.8 314.0)" fill="#0c0c0c"/>
<ellipse cx="382.8" cy="336.0" rx="8" ry="2.9" transform="rotate(56 382.8 336.0)" fill="#383838"/>
<ellipse cx="383.8" cy="334.5" rx="8" ry="2.9" transform="rotate(56 383.8 334.5)" fill="#0c0c0c"/>
<ellipse cx="382.8" cy="356.5" rx="8" ry="2.9" transform="rotate(56 382.8 356.5)" fill="#383838"/>
<ellipse cx="383.8" cy="355.0" rx="8" ry="2.9" transform="rotate(56 383.8 355.0)" fill="#0c0c0c"/>
<ellipse cx="382.8" cy="377.0" rx="8" ry="2.9" transform="rotate(56 382.8 377.0)" fill="#383838"/>
<ellipse cx="383.8" cy="375.5" rx="8" ry="2.9" transform="rotate(56 383.8 375.5)" fill="#0c0c0c"/>
<ellipse cx="382.8" cy="397.5" rx="8" ry="2.9" transform="rotate(56 382.8 397.5)" fill="#383838"/>
<ellipse cx="383.8" cy="396.0" rx="8" ry="2.9" transform="rotate(56 383.8 396.0)" fill="#0c0c0c"/>
<ellipse cx="382.8" cy="418.0" rx="8" ry="2.9" transform="rotate(56 382.8 418.0)" fill="#383838"/>
<ellipse cx="383.8" cy="416.5" rx="8" ry="2.9" transform="rotate(56 383.8 416.5)" fill="#0c0c0c"/>
<ellipse cx="382.8" cy="438.5" rx="8" ry="2.9" transform="rotate(56 382.8 438.5)" fill="#383838"/>
<ellipse cx="383.8" cy="437.0" rx="8" ry="2.9" transform="rotate(56 383.8 437.0)" fill="#0c0c0c"/>
<ellipse cx="382.8" cy="459.0" rx="8" ry="2.9" transform="rotate(56 382.8 459.0)" fill="#383838"/>
<ellipse cx="383.8" cy="457.5" rx="8" ry="2.9" transform="rotate(56 383.8 457.5)" fill="#0c0c0c"/>
<ellipse cx="382.8" cy="479.5" rx="8" ry="2.9" transform="rotate(56 382.8 479.5)" fill="#383838"/>
<ellipse cx="383.8" cy="478.0" rx="8" ry="2.9" transform="rotate(56 383.8 478.0)" fill="#0c0c0c"/>
<ellipse cx="382.8" cy="500.0" rx="8" ry="2.9" transform="rotate(56 382.8 500.0)" fill="#383838"/>
<ellipse cx="383.8" cy="498.5" rx="8" ry="2.9" transform="rotate(56 383.8 498.5)" fill="#0c0c0c"/>
<ellipse cx="382.8" cy="520.5" rx="8" ry="2.9" transform="rotate(56 382.8 520.5)" fill="#383838"/>
<ellipse cx="383.8" cy="519.0" rx="8" ry="2.9" transform="rotate(56 383.8 519.0)" fill="#0c0c0c"/>
<ellipse cx="382.8" cy="541.0" rx="8" ry="2.9" transform="rotate(56 382.8 541.0)" fill="#383838"/>
<ellipse cx="383.8" cy="539.5" rx="8" ry="2.9" transform="rotate(56 383.8 539.5)" fill="#0c0c0c"/>
<ellipse cx="382.8" cy="561.5" rx="8" ry="2.9" transform="rotate(56 382.8 561.5)" fill="#383838"/>
<ellipse cx="383.8" cy="560.0" rx="8" ry="2.9" transform="rotate(56 383.8 560.0)" fill="#0c0c0c"/>
<ellipse cx="382.8" cy="582.0" rx="8" ry="2.9" transform="rotate(56 382.8 582.0)" fill="#383838"/>
<ellipse cx="383.8" cy="580.5" rx="8" ry="2.9" transform="rotate(56 383.8 580.5)" fill="#0c0c0c"/>
<ellipse cx="382.8" cy="602.5" rx="8" ry="2.9" transform="rotate(56 382.8 602.5)" fill="#383838"/>
<ellipse cx="383.8" cy="601.0" rx="8" ry="2.9" transform="rotate(56 383.8 601.0)" fill="#0c0c0c"/>
<ellipse cx="382.8" cy="623.0" rx="8" ry="2.9" transform="rotate(56 382.8 623.0)" fill="#383838"/>
<ellipse cx="383.8" cy="621.5" rx="8" ry="2.9" transform="rotate(56 383.8 621.5)" fill="#0c0c0c"/>
<ellipse cx="397.1" cy="305.0" rx="8" ry="2.9" transform="rotate(56 397.1 305.0)" fill="#383838"/>
<ellipse cx="398.1" cy="303.5" rx="8" ry="2.9" transform="rotate(56 398.1 303.5)" fill="#0c0c0c"/>
<ellipse cx="397.1" cy="325.5" rx="8" ry="2.9" transform="rotate(56 397.1 325.5)" fill="#383838"/>
<ellipse cx="398.1" cy="324.0" rx="8" ry="2.9" transform="rotate(56 398.1 324.0)" fill="#0c0c0c"/>
<ellipse cx="397.1" cy="346.0" rx="8" ry="2.9" transform="rotate(56 397.1 346.0)" fill="#383838"/>
<ellipse cx="398.1" cy="344.5" rx="8" ry="2.9" transform="rotate(56 398.1 344.5)" fill="#0c0c0c"/>
<ellipse cx="397.1" cy="366.5" rx="8" ry="2.9" transform="rotate(56 397.1 366.5)" fill="#383838"/>
<ellipse cx="398.1" cy="365.0" rx="8" ry="2.9" transform="rotate(56 398.1 365.0)" fill="#0c0c0c"/>
<ellipse cx="397.1" cy="387.0" rx="8" ry="2.9" transform="rotate(56 397.1 387.0)" fill="#383838"/>
<ellipse cx="398.1" cy="385.5" rx="8" ry="2.9" transform="rotate(56 398.1 385.5)" fill="#0c0c0c"/>
<ellipse cx="397.1" cy="407.5" rx="8" ry="2.9" transform="rotate(56 397.1 407.5)" fill="#383838"/>
<ellipse cx="398.1" cy="406.0" rx="8" ry="2.9" transform="rotate(56 398.1 406.0)" fill="#0c0c0c"/>
<ellipse cx="397.1" cy="428.0" rx="8" ry="2.9" transform="rotate(56 397.1 428.0)" fill="#383838"/>
<ellipse cx="398.1" cy="426.5" rx="8" ry="2.9" transform="rotate(56 398.1 426.5)" fill="#0c0c0c"/>
<ellipse cx="397.1" cy="448.5" rx="8" ry="2.9" transform="rotate(56 397.1 448.5)" fill="#383838"/>
<ellipse cx="398.1" cy="447.0" rx="8" ry="2.9" transform="rotate(56 398.1 447.0)" fill="#0c0c0c"/>
<ellipse cx="397.1" cy="469.0" rx="8" ry="2.9" transform="rotate(56 397.1 469.0)" fill="#383838"/>
<ellipse cx="398.1" cy="467.5" rx="8" ry="2.9" transform="rotate(56 398.1 467.5)" fill="#0c0c0c"/>
<ellipse cx="397.1" cy="489.5" rx="8" ry="2.9" transform="rotate(56 397.1 489.5)" fill="#383838"/>
<ellipse cx="398.1" cy="488.0" rx="8" ry="2.9" transform="rotate(56 398.1 488.0)" fill="#0c0c0c"/>
<ellipse cx="397.1" cy="510.0" rx="8" ry="2.9" transform="rotate(56 397.1 510.0)" fill="#383838"/>
<ellipse cx="398.1" cy="508.5" rx="8" ry="2.9" transform="rotate(56 398.1 508.5)" fill="#0c0c0c"/>
<ellipse cx="397.1" cy="530.5" rx="8" ry="2.9" transform="rotate(56 397.1 530.5)" fill="#383838"/>
<ellipse cx="398.1" cy="529.0" rx="8" ry="2.9" transform="rotate(56 398.1 529.0)" fill="#0c0c0c"/>
<ellipse cx="397.1" cy="551.0" rx="8" ry="2.9" transform="rotate(56 397.1 551.0)" fill="#383838"/>
<ellipse cx="398.1" cy="549.5" rx="8" ry="2.9" transform="rotate(56 398.1 549.5)" fill="#0c0c0c"/>
<ellipse cx="397.1" cy="571.5" rx="8" ry="2.9" transform="rotate(56 397.1 571.5)" fill="#383838"/>
<ellipse cx="398.1" cy="570.0" rx="8" ry="2.9" transform="rotate(56 398.1 570.0)" fill="#0c0c0c"/>
<ellipse cx="397.1" cy="592.0" rx="8" ry="2.9" transform="rotate(56 397.1 592.0)" fill="#383838"/>
<ellipse cx="398.1" cy="590.5" rx="8" ry="2.9" transform="rotate(56 398.1 590.5)" fill="#0c0c0c"/>
<ellipse cx="397.1" cy="612.5" rx="8" ry="2.9" transform="rotate(56 397.1 612.5)" fill="#383838"/>
<ellipse cx="398.1" cy="611.0" rx="8" ry="2.9" transform="rotate(56 398.1 611.0)" fill="#0c0c0c"/>
<ellipse cx="397.1" cy="633.0" rx="8" ry="2.9" transform="rotate(56 397.1 633.0)" fill="#383838"/>
<ellipse cx="398.1" cy="631.5" rx="8" ry="2.9" transform="rotate(56 398.1 631.5)" fill="#0c0c0c"/>
<ellipse cx="411.4" cy="315.0" rx="8" ry="2.9" transform="rotate(56 411.4 315.0)" fill="#383838"/>
<ellipse cx="412.4" cy="313.5" rx="8" ry="2.9" transform="rotate(56 412.4 313.5)" fill="#0c0c0c"/>
<ellipse cx="411.4" cy="335.5" rx="8" ry="2.9" transform="rotate(56 411.4 335.5)" fill="#383838"/>
<ellipse cx="412.4" cy="334.0" rx="8" ry="2.9" transform="rotate(56 412.4 334.0)" fill="#0c0c0c"/>
<ellipse cx="411.4" cy="356.0" rx="8" ry="2.9" transform="rotate(56 411.4 356.0)" fill="#383838"/>
<ellipse cx="412.4" cy="354.5" rx="8" ry="2.9" transform="rotate(56 412.4 354.5)" fill="#0c0c0c"/>
<ellipse cx="411.4" cy="376.5" rx="8" ry="2.9" transform="rotate(56 411.4 376.5)" fill="#383838"/>
<ellipse cx="412.4" cy="375.0" rx="8" ry="2.9" transform="rotate(56 412.4 375.0)" fill="#0c0c0c"/>
<ellipse cx="411.4" cy="397.0" rx="8" ry="2.9" transform="rotate(56 411.4 397.0)" fill="#383838"/>
<ellipse cx="412.4" cy="395.5" rx="8" ry="2.9" transform="rotate(56 412.4 395.5)" fill="#0c0c0c"/>
<ellipse cx="411.4" cy="417.5" rx="8" ry="2.9" transform="rotate(56 411.4 417.5)" fill="#383838"/>
<ellipse cx="412.4" cy="416.0" rx="8" ry="2.9" transform="rotate(56 412.4 416.0)" fill="#0c0c0c"/>
<ellipse cx="411.4" cy="438.0" rx="8" ry="2.9" transform="rotate(56 411.4 438.0)" fill="#383838"/>
<ellipse cx="412.4" cy="436.5" rx="8" ry="2.9" transform="rotate(56 412.4 436.5)" fill="#0c0c0c"/>
<ellipse cx="411.4" cy="458.5" rx="8" ry="2.9" transform="rotate(56 411.4 458.5)" fill="#383838"/>
<ellipse cx="412.4" cy="457.0" rx="8" ry="2.9" transform="rotate(56 412.4 457.0)" fill="#0c0c0c"/>
<ellipse cx="411.4" cy="479.0" rx="8" ry="2.9" transform="rotate(56 411.4 479.0)" fill="#383838"/>
<ellipse cx="412.4" cy="477.5" rx="8" ry="2.9" transform="rotate(56 412.4 477.5)" fill="#0c0c0c"/>
<ellipse cx="411.4" cy="499.5" rx="8" ry="2.9" transform="rotate(56 411.4 499.5)" fill="#383838"/>
<ellipse cx="412.4" cy="498.0" rx="8" ry="2.9" transform="rotate(56 412.4 498.0)" fill="#0c0c0c"/>
<ellipse cx="411.4" cy="520.0" rx="8" ry="2.9" transform="rotate(56 411.4 520.0)" fill="#383838"/>
<ellipse cx="412.4" cy="518.5" rx="8" ry="2.9" transform="rotate(56 412.4 518.5)" fill="#0c0c0c"/>
<ellipse cx="411.4" cy="540.5" rx="8" ry="2.9" transform="rotate(56 411.4 540.5)" fill="#383838"/>
<ellipse cx="412.4" cy="539.0" rx="8" ry="2.9" transform="rotate(56 412.4 539.0)" fill="#0c0c0c"/>
<ellipse cx="411.4" cy="561.0" rx="8" ry="2.9" transform="rotate(56 411.4 561.0)" fill="#383838"/>
<ellipse cx="412.4" cy="559.5" rx="8" ry="2.9" transform="rotate(56 412.4 559.5)" fill="#0c0c0c"/>
<ellipse cx="411.4" cy="581.5" rx="8" ry="2.9" transform="rotate(56 411.4 581.5)" fill="#383838"/>
<ellipse cx="412.4" cy="580.0" rx="8" ry="2.9" transform="rotate(56 412.4 580.0)" fill="#0c0c0c"/>
<ellipse cx="411.4" cy="602.0" rx="8" ry="2.9" transform="rotate(56 411.4 602.0)" fill="#383838"/>
<ellipse cx="412.4" cy="600.5" rx="8" ry="2.9" transform="rotate(56 412.4 600.5)" fill="#0c0c0c"/>
<ellipse cx="411.4" cy="622.5" rx="8" ry="2.9" transform="rotate(56 411.4 622.5)" fill="#383838"/>
<ellipse cx="412.4" cy="621.0" rx="8" ry="2.9" transform="rotate(56 412.4 621.0)" fill="#0c0c0c"/>
<ellipse cx="411.4" cy="643.0" rx="8" ry="2.9" transform="rotate(56 411.4 643.0)" fill="#383838"/>
<ellipse cx="412.4" cy="641.5" rx="8" ry="2.9" transform="rotate(56 412.4 641.5)" fill="#0c0c0c"/>
</g>
<ellipse cx="221" cy="244" rx="3.5" ry="11" fill="#0c0c0c"/>
<ellipse cx="226" cy="360" rx="3.5" ry="11" fill="#0c0c0c"/>
<polygon points="233,410 206,440 207,451 224,478 259,473 312,537 294,550 296,561 316,573 320,584 380,581 404,595 404,585 392,570 240,418" fill="#222222"/>
<ellipse cx="234" cy="452" rx="16" ry="8" transform="rotate(-8 234 452)" fill="#303030"/>
<ellipse cx="236" cy="454" rx="5" ry="3" fill="#121212"/>
<ellipse cx="326" cy="562" rx="16" ry="8" transform="rotate(-8 326 562)" fill="#303030"/>
<ellipse cx="328" cy="563" rx="5" ry="3" fill="#121212"/>
<polygon points="262,265 298,301 300,420 264,385" fill="#262626"/>
<polygon points="262,265 302,306 298,310 260,272" fill="#3c3c3c"/>
<polygon points="298,306 306,308 307,426 300,422" fill="#333333"/>
<ellipse cx="277" cy="311" rx="3.5" ry="6" fill="#0c0c0c"/>
<rect x="268" y="333" width="4" height="29" fill="#0c0c0c"/>
<rect x="286" y="350" width="4" height="30" fill="#0c0c0c"/>
<polygon points="305,313 345,352 346,472 306,432" fill="#262626"/>
<polygon points="305,313 350,357 345,361 303,320" fill="#3c3c3c"/>
<polygon points="345,357 354,360 354,476 346,472" fill="#333333"/>
<ellipse cx="323" cy="356" rx="3.5" ry="6" fill="#0c0c0c"/>
<rect x="315" y="378" width="4" height="30" fill="#0c0c0c"/>
<rect x="336" y="398" width="4" height="34" fill="#0c0c0c"/>
<polygon points="244,334 262,346 264,364 246,352" fill="#111"/>
<path d="M249,343 L259,352" stroke="#c8c8c8" stroke-width="1.6"/>
<polygon points="245,362 263,374 265,392 247,380" fill="#111"/>
<path d="M250,371 L260,380" stroke="#c8c8c8" stroke-width="1.6"/>
<polygon points="360,455 388,470 390,522 362,508" fill="#161616"/>
<polygon points="345,469 363,454 378,467 364,489" fill="#4a4a4a"/>
<ellipse cx="372" cy="509" rx="4" ry="6" fill="none" stroke="#cfcfcf" stroke-width="1"/>
<text transform="translate(395,480) rotate(60)" font-size="6" fill="#d8d8d8" font-family="Liberation Sans, sans-serif">ON</text>
<text transform="translate(395,524) rotate(60)" font-size="6" fill="#d8d8d8" font-family="Liberation Sans, sans-serif">OFF</text>
</g>
  <g id="plug">
<defs><linearGradient id="cabfade" x1="213" y1="823" x2="245" y2="880" gradientUnits="userSpaceOnUse"><stop offset="0" stop-color="#2a2a2a" stop-opacity="0"/><stop offset="1" stop-color="#2a2a2a" stop-opacity="1"/></linearGradient><linearGradient id="redfade" x1="722" y1="815" x2="742" y2="855" gradientUnits="userSpaceOnUse"><stop offset="0" stop-color="#f04040" stop-opacity="0"/><stop offset="1" stop-color="#f04040" stop-opacity="1"/></linearGradient><linearGradient id="blkfade" x1="788" y1="818" x2="803" y2="848" gradientUnits="userSpaceOnUse"><stop offset="0" stop-color="#2a2a2a" stop-opacity="0"/><stop offset="1" stop-color="#2a2a2a" stop-opacity="1"/></linearGradient><linearGradient id="plugg" x1="-21" y1="0" x2="21" y2="0" gradientUnits="userSpaceOnUse"><stop offset="0" stop-color="#2a2a2a"/><stop offset="0.3" stop-color="#555555"/><stop offset="0.6" stop-color="#2a2a2a"/><stop offset="1" stop-color="#181818"/></linearGradient></defs>
<path d="M215,822 L282,925" stroke="url(#cabfade)" stroke-width="13" stroke-linecap="butt"/>
<g transform="translate(295,951) rotate(-29)">
<path d="M-7,-36 L7,-36 Q14,-12 18,-2 L-18,-2 Q-14,-12 -7,-36 Z" fill="#222222"/>
<path d="M-20,4 Q-20,-6 -12,-7 L12,-7 Q20,-6 20,4 L22,104 Q22,113 14,114 L-14,114 Q-22,113 -22,104 Z" fill="url(#plugg)"/>
<path d="M-22,88 L22,88" stroke="#1a1a1a" stroke-width="1.5"/>
<path d="M-23,74 Q-38,82 -32,98 Q-28,104 -22,100" stroke="#a8a8ae" stroke-width="3" fill="none"/>
<path d="M23,74 Q36,80 32,94 Q29,100 23,98" stroke="#a8a8ae" stroke-width="3" fill="none"/>
<rect x="-13" y="112" width="26" height="18" rx="5" fill="#181818"/>
<path d="M-7,128 L7,128 L7,146 Q7,153 0,153 Q-7,153 -7,146 Z" fill="#a8a8ac"/>
<path d="M-2.5,130 L2.5,130 L2.5,148 L-2.5,148 Z" fill="#e8e8ec"/>
</g>
<path d="M724,818 L812,966" stroke="url(#redfade)" stroke-width="5"/>
<path d="M790,822 L826,870" stroke="url(#blkfade)" stroke-width="7"/>
<polygon points="866,930 892,924 902,956 918,995 942,1060 942,1084 928,1094 912,1082 900,1040 882,990 870,958" fill="#2a2a2a"/>
<path d="M876,950 L885,945 L892,961" stroke="#b0b0b0" stroke-width="1.6" fill="none"/>
<polygon points="932,1070 979,1054 977,1074 934,1092 920,1082" fill="#2e2e2e"/>
<polygon points="872,863 912,852 914,855 927,907 950,974 977,1051 979,1063 939,1078 938,1060 908,993 885,920 872,868" fill="#404040"/>
<polygon points="914,855 927,907 950,974 977,1051 979,1063 970,1062 946,982 922,912 906,862" fill="#383838"/>
<path d="M884,910 Q902,900 920,905 M892,938 Q910,928 928,932" stroke="#474747" stroke-width="3" fill="none"/>
<circle cx="954" cy="1035" r="8.5" fill="none" stroke="#2c2c2c" stroke-width="1.5"/>
<line x1="948" y1="1036" x2="960" y2="1034" stroke="#2c2c2c" stroke-width="1.5"/>
<polygon points="786,957 816,949 840,1000 870,1060 890,1087 910,1087 908,1106 866,1112 850,1072 836,1032 830,1001 801,986 786,962" fill="#e23e3e"/>
<path d="M810,964 L824,959" stroke="#b8b8b8" stroke-width="1.6"/>
<circle cx="833" cy="1018" r="5" fill="#cc3434"/>
<polygon points="804,876 843,865 847,869 860,913 877,965 904,1032 912,1076 910,1087 872,1089 866,1070 852,1032 827,974 814,920 804,880" fill="#F24444"/>
<polygon points="847,869 860,913 877,965 904,1032 912,1076 910,1087 902,1084 894,1036 868,968 852,915 840,874" fill="#dc3a3a"/>
<path d="M818,930 Q838,918 858,920 M824,955 Q846,942 868,946" stroke="#e03c3c" stroke-width="3" fill="none"/>
<circle cx="885" cy="1053" r="8.5" fill="none" stroke="#c43232" stroke-width="1.5"/>
<path d="M878,1053 L892,1053 M885,1046 L885,1060" stroke="#c43232" stroke-width="1.5"/>
</g>
  <g id="clamps"></g>
</svg>
<div class="abs dim" style="left:87px;top:302.5px;">2.6in</div>
<div class="abs dim" style="left:166px;top:532.5px;">5.1in</div>
<div class="abs dim" style="left:716.5px;top:574.5px;">6.6in</div>
<div class="abs head" id="head"><span style="color:#F9B128">TWO</span> CONNECTION WAYS</div>
<div class="abs sub" id="sub1" style="left:114px;top:1138px;">Cigarette Lighter Connection</div>
<div class="abs len" style="left:302px;top:1183px;">26 in</div>
<div class="abs sub" id="sub2" style="left:747px;top:1138px;">Battery Cables</div>
<div class="abs len" style="left:827px;top:1183px;">26 in</div>
<div class="abs para" style="left:88px;top:1256px;">Because of the car's protection device limited, <b>lower 120W</b> device, use<br>the cigarette lighter connection.</div>
<div class="abs para" style="left:88px;top:1361px;">When your device <b>over 120W</b>, use the battery cables to connect battery.</div>
</body></html>
